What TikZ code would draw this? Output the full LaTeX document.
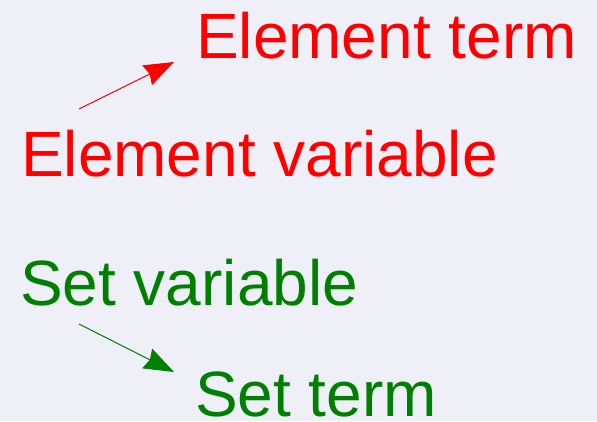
\documentclass[tikz,border=0pt]{standalone}
\usepackage{fontspec}
\setmainfont{Liberation Sans}
\usetikzlibrary{arrows.meta}

\definecolor{bgpaper}{RGB}{239,239,248}
\definecolor{elemred}{RGB}{255,0,0}
\definecolor{setgreen}{RGB}{0,128,0}

\tikzset{
  label/.style={anchor=base west,inner sep=0pt,font=\fontsize{64}{70}\selectfont},
  link/.style={line width=1pt,-{Stealth[length=30pt,width=22pt,inset=3pt]}}
}

\begin{document}
\begin{tikzpicture}[x=1pt,y=-1pt]
   \fill[bgpaper] (0,0) rectangle (597,421);
   \useasboundingbox (0,0) rectangle (597,421);
   % element side
   \node[label,text=elemred] (eterm) at (196,58) {Element term};
   \node[label,text=elemred] (evar) at (21,176) {Element variable};
   % set side
   \node[label,text=setgreen] (svar) at (20,305) {Set variable};
   \node[label,text=setgreen] (sterm) at (195,416) {Set term};
   \coordinate (etail) at (79,109);
   \coordinate (ehead) at (174,62);
   \coordinate (stail) at (79,324);
   \coordinate (shead) at (174,372);
   \draw[link,elemred] (etail) -- (ehead);
   \draw[link,setgreen] (stail) -- (shead);
\end{tikzpicture}
\end{document}
